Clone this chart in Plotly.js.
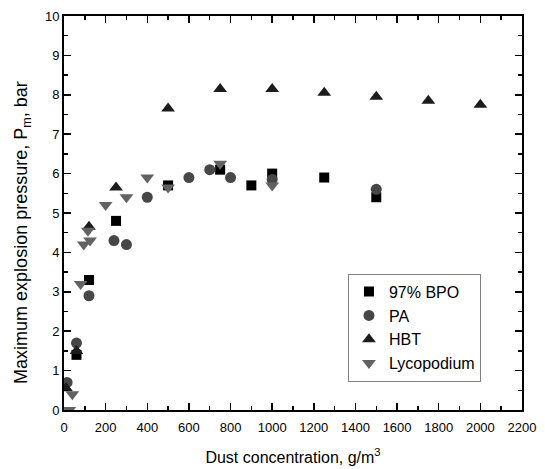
<!DOCTYPE html>
<html>
<head>
<meta charset="utf-8">
<script src="https://cdn.plot.ly/plotly-3.0.1.min.js"></script>
<style>html,body{margin:0;padding:0;background:#fff;}#chart{width:545px;height:469px;}</style>
</head>
<body>
<div id="chart"></div>
<script>
// Data
var bpoX = [60, 120, 250, 500, 750, 900, 1000, 1250, 1500];
var bpoY = [1.4, 3.3, 4.8, 5.7, 6.1, 5.7, 6.0, 5.9, 5.4];

var paX = [15, 60, 120, 240, 300, 400, 600, 700, 800, 1000, 1500];
var paY = [0.7, 1.7, 2.9, 4.3, 4.2, 5.4, 5.9, 6.1, 5.9, 5.85, 5.6];

var hbtX = [10, 60, 120, 250, 500, 750, 1000, 1250, 1500, 1750, 2000];
var hbtY = [0.55, 1.5, 4.65, 5.65, 7.65, 8.15, 8.15, 8.05, 7.95, 7.85, 7.75];

var lycoX = [25, 40, 80, 95, 115, 125, 200, 300, 400, 500, 750, 1000];
var lycoY = [0.0, 0.4, 3.2, 4.2, 4.55, 4.3, 5.2, 5.4, 5.9, 5.65, 6.25, 5.7];

var seriesNames = ['97% BPO', 'PA', 'HBT', 'Lycopodium'];
var xTickVals = [0, 200, 400, 600, 800, 1000, 1200, 1400, 1600, 1800, 2000, 2200];
var yTickVals = [0, 1, 2, 3, 4, 5, 6, 7, 8, 9, 10];
var xTitle = 'Dust concentration, g/m<sup>3</sup>';
var yTitle = 'Maximum explosion pressure, P<sub>m</sub>, bar';

var font = 'Liberation Sans, Arial, sans-serif';

function tr(x, y, name, sym, color, size) {
  return {
    x: x, y: y, name: name, type: 'scatter', mode: 'markers',
    marker: {symbol: sym, color: color, size: size, line: {width: 0}}
  };
}

var traces = [
  tr(bpoX, bpoY, seriesNames[0], 'square', '#000000', 10),
  tr(paX, paY, seriesNames[1], 'circle', '#474747', 11),
  tr(hbtX, hbtY, seriesNames[2], 'triangle-up', '#1c1c1c', 12),
  tr(lycoX, lycoY, seriesNames[3], 'triangle-down', '#626262', 12)
];

var axisCommon = {
  showgrid: false, zeroline: false,
  showline: true, linecolor: '#000', linewidth: 2,
  mirror: 'ticks', ticks: 'inside', ticklen: 7, tickwidth: 1.5, tickcolor: '#000',
  tickfont: {family: font, size: 13, color: '#000'}
};

var layout = {
  width: 545, height: 469,
  margin: {l: 63.5, r: 22.5, t: 15.5, b: 59},
  paper_bgcolor: '#fff', plot_bgcolor: '#fff',
  showlegend: true,
  legend: {
    x: 0.62, y: 0.346, xanchor: 'left', yanchor: 'top',
    bgcolor: '#fff', bordercolor: '#808080', borderwidth: 1,
    font: {family: font, size: 16, color: '#000'},
    traceorder: 'normal'
  },
  xaxis: Object.assign({}, axisCommon, {
    range: [0, 2200], tickvals: xTickVals, ticktext: xTickVals.map(String),
    ticklabelstandoff: 4,
    minor: {dtick: 100, ticks: 'inside', ticklen: 4, tickwidth: 1.5, tickcolor: '#000'},
    title: {text: xTitle, font: {family: font, size: 16, color: '#000'}, standoff: 18}
  }),
  yaxis: Object.assign({}, axisCommon, {
    range: [0, 10], tickvals: yTickVals, ticktext: yTickVals.map(String),
    minor: {dtick: 0.5, ticks: 'inside', ticklen: 4, tickwidth: 1.5, tickcolor: '#000'}
  }),
  annotations: [{
    text: yTitle, xref: 'paper', yref: 'paper',
    x: -0.0904, y: 0.451, xanchor: 'center', yanchor: 'middle',
    textangle: -90, showarrow: false,
    font: {family: font, size: 18, color: '#000'}
  }]
};

Plotly.newPlot('chart', traces, layout, {displayModeBar: false, staticPlot: true});
</script>
</body>
</html>
